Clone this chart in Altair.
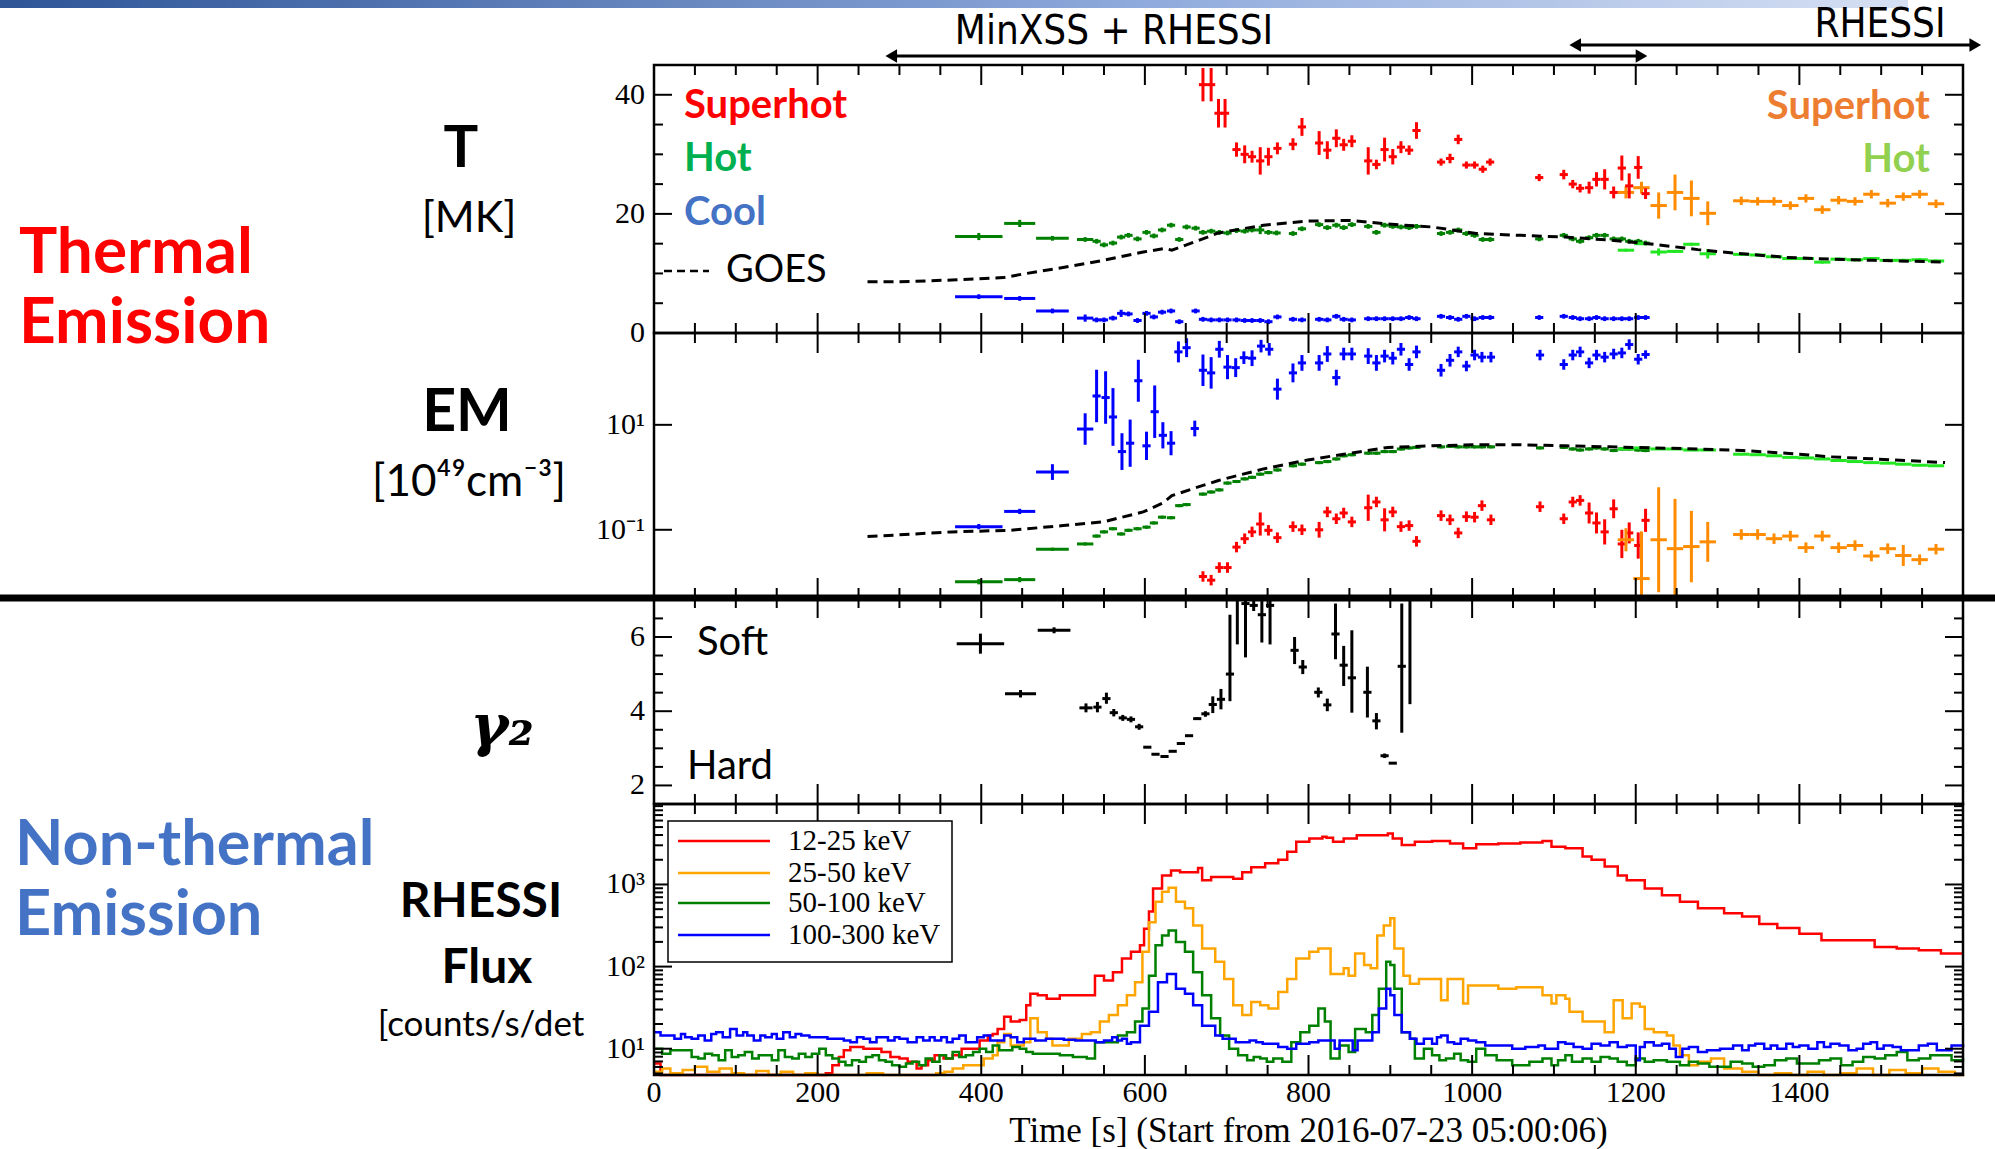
import altair as alt
import numpy as np
import pandas as pd

# ---------------- layout of the plot area (pixels, relative to plot origin) ----------------
W, H = 1309, 1010
T_TOP, T_BOT = 0, 268
EM_TOP, EM_BOT = 268, 533
G_TOP, G_BOT = 533, 739
F_TOP, F_BOT = 739, 1010

# ---------------- data ----------------
# Temperature [MK]: (time s, value, error)
sh_T = [(671, 41.7, 2.8), (681, 41.7, 2.8), (690, 36.9, 2.4), (698, 36.9, 2.4), (712, 30.8, 1.2), (722, 30.0, 1.5),
        (731, 29.6, 1.0), (741, 28.9, 2.3), (751, 29.6, 1.5), (762, 31.0, 1.0), (781, 31.7, 1.0), (792, 34.6, 1.5),
        (813, 31.9, 2.0), (823, 30.7, 1.5), (834, 32.7, 1.5), (843, 31.6, 1.0), (853, 32.2, 1.0), (873, 28.9, 2.3),
        (883, 28.3, 0.8), (893, 30.8, 2.0), (903, 29.6, 1.3), (913, 31.2, 1.0), (923, 30.7, 0.8), (932, 34.0, 1.4),
        (962, 28.7, 0.6), (973, 29.3, 0.8), (983, 32.5, 0.8), (993, 28.2, 0.6), (1003, 28.2, 0.6), (1013, 27.5, 0.6),
        (1022, 28.7, 0.6), (1082, 26.1, 0.6), (1112, 26.6, 0.8), (1123, 25.0, 0.7), (1132, 24.3, 0.7), (1143, 24.4, 1.0),
        (1152, 25.8, 1.2), (1162, 25.8, 1.7), (1173, 23.6, 1.0), (1183, 27.7, 2.1), (1192, 24.7, 2.1), (1203, 27.8, 1.9),
        (1212, 23.4, 0.9)]
hot_T = [(397, 16.2, 0.6), (447, 18.4, 0.6), (487, 15.9), (527, 15.7), (541, 15.4), (550, 14.8), (561, 15.1), (571, 16.1),
         (580, 16.4), (591, 15.8), (602, 16.9), (611, 16.3), (621, 17.3), (632, 18.1), (642, 15.7), (651, 17.8),
         (662, 17.6), (671, 16.9), (681, 17.1), (691, 16.9), (701, 16.8), (712, 17.2), (722, 17.1), (731, 17.3),
         (741, 17.3, 0.7), (751, 16.9), (761, 16.8), (781, 16.7), (792, 17.5), (813, 18.2), (823, 17.7), (834, 18.1),
         (843, 17.7), (853, 18.2), (873, 17.9), (883, 16.9), (893, 18.1), (903, 17.9), (913, 17.8), (923, 17.7),
         (932, 17.9), (962, 16.7), (973, 16.9), (983, 17.3), (993, 16.7), (1003, 16.4), (1013, 15.7), (1022, 15.7),
         (1082, 15.8), (1112, 16.4), (1123, 15.8), (1132, 15.4), (1143, 16.0), (1152, 16.4), (1162, 16.4),
         (1173, 15.8), (1183, 15.8), (1192, 15.4), (1203, 15.4), (1212, 15.1)]
cool_T = [(397, 6.1), (447, 5.8), (487, 3.7), (527, 2.5, 0.6), (541, 2.2), (550, 2.2), (561, 2.5), (571, 3.3, 0.6),
          (580, 3.2), (591, 2.1), (602, 3.3), (611, 2.7), (621, 3.5), (632, 3.7), (642, 1.9), (662, 3.7), (671, 2.3),
          (681, 2.2), (691, 2.2), (701, 2.2), (712, 2.2), (722, 2.1), (731, 2.1), (741, 2.1), (751, 1.9), (762, 2.7),
          (781, 2.3), (792, 2.2), (813, 2.3), (823, 2.2), (834, 2.8), (843, 2.3), (853, 2.2), (873, 2.4), (883, 2.4),
          (893, 2.4), (903, 2.4), (913, 2.4), (923, 2.6), (932, 2.4), (962, 2.8), (973, 2.6), (983, 2.3), (993, 2.8),
          (1003, 2.4), (1013, 2.6), (1022, 2.6), (1082, 2.6), (1112, 2.8), (1123, 2.6), (1132, 2.4), (1143, 2.4),
          (1152, 2.6), (1162, 2.4), (1173, 2.4), (1183, 2.4), (1192, 2.4), (1203, 2.6), (1212, 2.6)]
shR_T = [(1188, 23.6, 1.0), (1207, 24.4, 1.0), (1228, 21.4, 2.2), (1248, 23.6, 3.0), (1268, 22.6, 3.0), (1288, 20.1, 2.0),
         (1329, 22.2), (1349, 22.1), (1369, 22.1), (1389, 21.4), (1408, 22.6), (1428, 20.7), (1448, 22.3), (1468, 22.1),
         (1488, 23.3), (1508, 21.8), (1527, 22.9), (1547, 23.3), (1567, 21.7)]
hotR_T = [(1188, 13.9), (1208, 15.0), (1228, 13.6, 0.6), (1248, 13.7), (1268, 14.9), (1288, 13.3, 0.8), (1329, 13.2),
          (1349, 13.1), (1369, 12.8), (1389, 12.5), (1408, 12.5), (1428, 11.9), (1448, 12.4), (1468, 12.3),
          (1488, 12.5), (1508, 12.2), (1527, 12.2), (1547, 12.3), (1567, 12.1)]
goes_T = [(261, 8.6), (300, 8.6), (364, 8.9), (427, 9.3), (451, 9.9), (500, 11.0), (549, 12.2), (598, 13.6), (625, 14.2),
          (633, 13.9), (647, 14.6), (690, 16.8), (745, 18.1), (799, 18.8), (851, 18.9), (897, 18.3), (951, 17.8),
          (1005, 16.7), (1059, 16.4), (1114, 16.1), (1168, 15.6), (1222, 14.9), (1276, 14.0), (1330, 13.3),
          (1384, 12.7), (1438, 12.4), (1492, 12.2), (1578, 11.9)]

# Emission measure [1e49 cm^-3], as log10: (time s, log10 value, error in dex)
cool_EM = [(397, -0.94, 0.05), (447, -0.65, 0.05), (487, 0.10, 0.15), (527, 0.92, 0.3), (541, 1.55, 0.5), (552, 1.52, 0.5),
           (561, 1.15, 0.55), (572, 0.49, 0.35), (582, 0.65, 0.45), (592, 1.84, 0.4), (602, 0.60, 0.27), (612, 1.25, 0.5),
           (622, 0.80, 0.25), (632, 0.65, 0.23), (641, 2.39, 0.2), (651, 2.47, 0.18), (661, 0.93, 0.15), (671, 2.04, 0.3),
           (681, 1.99, 0.3), (691, 2.44, 0.16), (701, 2.10, 0.23), (711, 2.09, 0.18), (721, 2.28, 0.12), (731, 2.27, 0.15),
           (742, 2.50, 0.12), (752, 2.44, 0.12), (762, 1.68, 0.2), (781, 1.99, 0.18), (792, 2.18, 0.15), (813, 2.18, 0.15),
           (823, 2.35, 0.15), (834, 1.90, 0.15), (843, 2.35, 0.12), (853, 2.35, 0.12), (873, 2.31, 0.15), (883, 2.18, 0.15),
           (893, 2.31, 0.12), (903, 2.27, 0.12), (913, 2.44, 0.12), (923, 2.15, 0.12), (932, 2.39, 0.12), (962, 2.04, 0.12),
           (973, 2.23, 0.12), (983, 2.39, 0.1), (993, 2.12, 0.1), (1003, 2.33, 0.1), (1012, 2.29, 0.1), (1023, 2.29, 0.1),
           (1083, 2.33, 0.1), (1112, 2.15, 0.1), (1123, 2.33, 0.1), (1132, 2.39, 0.1), (1143, 2.18, 0.1), (1152, 2.33, 0.1),
           (1162, 2.29, 0.1), (1173, 2.35, 0.1), (1183, 2.37, 0.1), (1192, 2.53, 0.1), (1203, 2.25, 0.1), (1212, 2.34, 0.08)]
hot_EM = [(397, -1.99, 0.05), (447, -1.95, 0.05), (487, -1.37), (527, -1.27), (541, -1.12), (550, -1.04), (561, -0.98),
          (571, -1.08), (580, -1.01), (591, -0.98), (602, -0.95), (611, -0.87), (621, -0.76), (632, -0.77), (642, -0.54),
          (651, -0.52), (671, -0.32), (681, -0.28), (691, -0.24), (701, -0.11), (712, -0.08), (722, -0.03), (731, 0.00),
          (741, 0.06), (751, 0.09), (762, 0.14), (781, 0.22), (792, 0.25), (813, 0.28), (823, 0.30), (834, 0.35),
          (843, 0.41), (853, 0.43), (873, 0.46), (883, 0.46), (893, 0.49), (903, 0.49), (913, 0.54), (923, 0.56),
          (932, 0.57), (962, 0.58), (973, 0.59), (983, 0.58), (993, 0.58), (1003, 0.58), (1012, 0.58), (1023, 0.58),
          (1083, 0.56), (1112, 0.57), (1123, 0.54), (1132, 0.52), (1143, 0.54), (1152, 0.56), (1162, 0.54),
          (1173, 0.51), (1183, 0.54), (1192, 0.54), (1203, 0.52), (1212, 0.51)]
sh_EM = [(671, -1.89), (681, -1.96), (691, -1.72), (701, -1.72), (712, -1.33), (722, -1.17), (731, -1.04), (741, -0.89, 0.22),
         (751, -1.01), (762, -1.15), (781, -0.94), (792, -1.00), (813, -1.00, 0.15), (823, -0.66), (834, -0.79), (843, -0.68),
         (853, -0.85), (873, -0.58, 0.25), (883, -0.47), (893, -0.81, 0.22), (903, -0.66), (913, -0.94), (923, -0.92),
         (932, -1.22), (962, -0.73), (973, -0.81), (983, -1.06), (993, -0.75), (1003, -0.76), (1012, -0.54), (1023, -0.81),
         (1083, -0.56), (1112, -0.79), (1123, -0.47), (1132, -0.44), (1143, -0.68, 0.2), (1152, -0.87, 0.2),
         (1162, -1.04, 0.24), (1173, -0.60, 0.18), (1183, -1.27, 0.27), (1192, -1.06, 0.2), (1203, -1.30, 0.25),
         (1212, -0.82, 0.22)]
shR_EM = [(1188, -1.19, 0.22), (1207, -1.93, 0.9), (1228, -1.19, 1.0), (1248, -1.36, 0.95), (1268, -1.32, 0.68),
          (1288, -1.23, 0.38), (1329, -1.09), (1349, -1.09), (1369, -1.17), (1389, -1.12), (1408, -1.34), (1428, -1.12),
          (1448, -1.34), (1468, -1.30), (1488, -1.50), (1508, -1.36), (1527, -1.49, 0.2), (1547, -1.57), (1567, -1.37)]
hotR_EM = [(1188, 0.54), (1208, 0.56), (1228, 0.54), (1248, 0.54), (1268, 0.52), (1288, 0.52), (1329, 0.44), (1349, 0.43),
           (1369, 0.41), (1389, 0.38), (1408, 0.37), (1428, 0.35), (1448, 0.32), (1468, 0.30), (1488, 0.28), (1508, 0.27),
           (1527, 0.25), (1547, 0.23), (1567, 0.22)]
goes_EM = [(261, -1.13), (364, -1.04), (435, -1.01), (500, -0.92), (549, -0.85), (598, -0.66), (622, -0.49), (633, -0.35),
           (658, -0.22), (690, -0.06), (745, 0.16), (799, 0.33), (843, 0.44), (897, 0.57), (951, 0.60), (1005, 0.62),
           (1059, 0.62), (1114, 0.60), (1168, 0.58), (1222, 0.56), (1276, 0.54), (1330, 0.51), (1384, 0.46),
           (1438, 0.39), (1492, 0.35), (1578, 0.28)]

# Spectral index gamma_2: (time s, value, lower, upper)
gamma2 = [(399, 5.82, 5.55, 6.09), (448, 4.47, 4.37, 4.57), (489, 6.18, 6.10, 6.26), (528, 4.09, 3.97, 4.21),
          (542, 4.11, 3.97, 4.25), (553, 4.34, 4.20, 4.50), (562, 3.96, 3.86, 4.06), (573, 3.82, 3.74, 3.90),
          (583, 3.78, 3.70, 3.86), (593, 3.58, 3.50, 3.66), (603, 3.03, 3.01, 3.05), (613, 2.84, 2.82, 2.86),
          (624, 2.78, 2.76, 2.80), (634, 2.92, 2.90, 2.94), (644, 3.13, 3.11, 3.15), (654, 3.34, 3.32, 3.36),
          (664, 3.80, 3.77, 3.83), (674, 3.93, 3.85, 4.00), (683, 4.18, 3.95, 4.40), (693, 4.32, 4.05, 4.60),
          (704, 5.00, 4.27, 6.60), (713, 7.40, 5.80, 8.00), (723, 6.90, 5.45, 8.00), (733, 6.85, 6.70, 7.00),
          (743, 6.60, 5.85, 7.00), (753, 6.85, 5.80, 7.30), (783, 5.64, 5.27, 6.00), (793, 5.19, 5.00, 5.38),
          (812, 4.51, 4.37, 4.64), (823, 4.17, 4.00, 4.34), (833, 6.08, 5.40, 6.90), (843, 5.24, 4.68, 5.76),
          (853, 4.90, 3.96, 6.18), (872, 4.51, 3.83, 5.20), (883, 3.74, 3.51, 3.95), (893, 2.80, 2.74, 2.86),
          (903, 2.60, 2.58, 2.62), (914, 5.21, 3.42, 6.90), (924, 7.50, 4.19, 8.00)]
MX_HALF = {397: 29, 399: 29, 447: 19, 448: 19, 487: 20, 489: 20, 527: 10, 528: 8}  # wide early MinXSS bins [s]

# RHESSI count rates [counts/s/det], as log10: (time s, log10 rate)
flux_12_25 = [(0, 0.82), (8, 0.55), (200, 0.55), (210, 0.70), (218, 0.80), (226, 0.90), (232, 0.98), (240, 1.02), (256, 1.00),
              (267, 1.00), (278, 0.96), (289, 0.90), (300, 0.88), (310, 0.84), (321, 0.76), (327, 0.80), (335, 0.86),
              (343, 0.92), (354, 0.88), (365, 0.92), (376, 1.00), (387, 1.00), (398, 1.10), (408, 1.16), (414, 1.18),
              (420, 1.24), (428, 1.39), (436, 1.33), (447, 1.35), (455, 1.53), (460, 1.67), (469, 1.65), (480, 1.61),
              (496, 1.65), (529, 1.65), (539, 1.89), (550, 1.83), (561, 1.93), (572, 2.10), (583, 2.18), (594, 2.26),
              (599, 2.46), (605, 2.67), (610, 2.95), (621, 3.11), (632, 3.17), (643, 3.15), (665, 3.20), (670, 3.05),
              (681, 3.09), (692, 3.09), (708, 3.07), (719, 3.15), (730, 3.21), (747, 3.26), (763, 3.30), (774, 3.40),
              (785, 3.52), (801, 3.56), (817, 3.58), (822, 3.57), (830, 3.52), (843, 3.56), (859, 3.60), (876, 3.60),
              (897, 3.62), (903, 3.56), (914, 3.48), (930, 3.52), (951, 3.53), (973, 3.50), (989, 3.44), (1005, 3.49),
              (1032, 3.50), (1059, 3.51), (1086, 3.53), (1097, 3.46), (1114, 3.44), (1127, 3.44), (1135, 3.34),
              (1146, 3.30), (1162, 3.22), (1178, 3.11), (1189, 3.05), (1211, 2.95), (1232, 2.87), (1254, 2.79),
              (1276, 2.71), (1308, 2.65), (1330, 2.61), (1351, 2.52), (1373, 2.47), (1400, 2.40), (1427, 2.32),
              (1465, 2.32), (1492, 2.24), (1519, 2.22), (1546, 2.20), (1573, 2.16), (1600, 2.16)]
flux_25_50 = [(0, 0.72), (10, 0.76), (20, 0.70), (35, 0.74), (50, 0.78), (65, 0.72), (80, 0.76), (95, 0.70), (110, 0.66),
              (125, 0.73), (140, 0.68), (155, 0.72), (170, 0.66), (185, 0.70), (200, 0.64), (230, 0.66), (260, 0.70),
              (280, 0.66), (300, 0.62), (330, 0.66), (345, 0.70), (355, 0.72), (365, 0.76), (378, 0.80), (387, 0.80),
              (403, 0.88), (414, 0.92), (420, 1.08), (428, 1.18), (436, 1.04), (452, 1.08), (460, 1.37), (469, 1.20),
              (480, 1.12), (487, 1.04), (507, 1.12), (523, 1.18), (534, 1.20), (545, 1.33), (556, 1.41), (567, 1.53),
              (578, 1.65), (588, 1.81), (597, 2.18), (605, 2.54), (613, 2.79), (621, 2.91), (629, 2.96), (638, 2.79),
              (649, 2.71), (659, 2.50), (670, 2.22), (686, 2.06), (697, 1.85), (708, 1.53), (719, 1.41), (730, 1.57),
              (741, 1.53), (751, 1.49), (763, 1.69), (774, 1.85), (785, 2.10), (801, 2.18), (812, 2.22), (819, 2.22),
              (827, 1.91), (843, 1.98), (849, 1.89), (857, 2.16), (868, 2.02), (876, 1.98), (884, 2.38), (892, 2.50),
              (900, 2.59), (905, 2.22), (916, 1.89), (924, 1.79), (935, 1.85), (951, 1.85), (962, 1.59), (970, 1.85),
              (989, 1.55), (995, 1.77), (1032, 1.73), (1054, 1.75), (1086, 1.65), (1097, 1.55), (1103, 1.65),
              (1114, 1.61), (1119, 1.45), (1135, 1.33), (1157, 1.33), (1162, 1.20), (1173, 1.59), (1184, 1.37),
              (1195, 1.55), (1205, 1.51), (1211, 1.24), (1222, 1.20), (1238, 1.16), (1246, 1.04), (1254, 0.92),
              (1265, 0.80), (1276, 0.84), (1292, 0.88), (1308, 0.76), (1330, 0.72), (1350, 0.66), (1370, 0.70),
              (1390, 0.64), (1410, 0.72), (1430, 0.66), (1450, 0.70), (1470, 0.76), (1490, 0.68), (1510, 0.74),
              (1530, 0.70), (1550, 0.76), (1570, 0.72), (1590, 0.66), (1600, 0.70)]
flux_50_100 = [(0, 1.00), (10, 0.94), (20, 0.98), (38, 0.98), (46, 0.90), (54, 0.88), (62, 0.94), (71, 0.92), (79, 0.86),
               (87, 0.98), (95, 0.90), (103, 0.92), (111, 0.96), (120, 0.88), (128, 0.92), (136, 0.92), (144, 0.86),
               (152, 0.98), (160, 0.90), (169, 0.88), (177, 0.94), (185, 0.90), (193, 0.94), (202, 1.00), (210, 0.92),
               (218, 0.88), (226, 0.84), (234, 0.80), (242, 0.86), (251, 0.84), (259, 0.90), (267, 0.92), (275, 0.86),
               (283, 0.84), (291, 0.80), (300, 0.78), (308, 0.82), (316, 0.84), (324, 0.80), (332, 0.88), (340, 0.84),
               (349, 0.92), (357, 0.88), (365, 0.96), (373, 0.90), (381, 0.92), (390, 0.96), (398, 1.00), (406, 0.96),
               (414, 1.04), (422, 0.98), (430, 0.98), (438, 1.02), (447, 1.00), (455, 0.96), (463, 0.94), (479, 0.94),
               (496, 0.92), (512, 0.90), (529, 0.88), (539, 1.08), (556, 1.08), (567, 1.16), (578, 1.20), (588, 1.33),
               (597, 1.49), (605, 1.89), (613, 2.26), (621, 2.38), (629, 2.44), (638, 2.30), (649, 2.18), (659, 1.93),
               (670, 1.65), (681, 1.37), (692, 1.16), (703, 1.00), (714, 0.92), (725, 0.86), (733, 0.90), (741, 0.88),
               (749, 0.84), (757, 0.88), (768, 0.84), (779, 1.08), (790, 1.20), (801, 1.28), (812, 1.49), (816, 1.49),
               (820, 1.33), (827, 0.88), (838, 1.04), (849, 0.96), (857, 1.24), (870, 1.20), (878, 1.41), (886, 1.73),
               (895, 2.06), (900, 2.02), (905, 1.73), (914, 1.20), (924, 1.12), (930, 0.88), (941, 1.00), (951, 0.92),
               (960, 0.86), (968, 0.88), (978, 0.94), (986, 0.86), (995, 0.84), (1005, 1.00), (1016, 0.92), (1030, 0.86),
               (1049, 0.80), (1070, 0.84), (1086, 0.88), (1097, 0.80), (1105, 0.86), (1114, 0.92), (1122, 0.84),
               (1135, 0.88), (1146, 0.84), (1157, 0.90), (1168, 0.88), (1178, 0.84), (1189, 0.80), (1200, 0.88),
               (1211, 0.84), (1222, 0.86), (1238, 0.84), (1254, 0.80), (1265, 0.84), (1276, 0.82), (1290, 0.78),
               (1303, 0.78), (1316, 0.84), (1330, 0.82), (1343, 0.78), (1357, 0.80), (1370, 0.86), (1384, 0.88),
               (1397, 0.82), (1411, 0.82), (1424, 0.86), (1438, 0.88), (1451, 0.80), (1465, 0.84), (1478, 0.90),
               (1492, 0.88), (1505, 0.92), (1519, 0.96), (1532, 0.86), (1546, 0.88), (1560, 0.92), (1573, 0.92),
               (1586, 0.86), (1600, 0.88)]
flux_100_300 = [(0, 1.20), (8, 1.16), (16, 1.16), (25, 1.12), (33, 1.18), (38, 1.14), (46, 1.12), (54, 1.16), (62, 1.10),
                (70, 1.18), (76, 1.20), (84, 1.14), (93, 1.24), (101, 1.16), (109, 1.20), (114, 1.16), (122, 1.10),
                (130, 1.16), (136, 1.14), (144, 1.18), (150, 1.12), (158, 1.20), (166, 1.14), (173, 1.18), (180, 1.16),
                (190, 1.14), (202, 1.14), (212, 1.12), (223, 1.12), (232, 1.10), (240, 1.08), (248, 1.14), (256, 1.12),
                (264, 1.08), (272, 1.14), (278, 1.14), (286, 1.10), (294, 1.14), (300, 1.12), (310, 1.08), (321, 1.14),
                (329, 1.10), (337, 1.14), (343, 1.10), (351, 1.14), (358, 1.08), (365, 1.12), (373, 1.16), (381, 1.08),
                (387, 1.08), (395, 1.14), (403, 1.16), (411, 1.10), (420, 1.10), (428, 1.16), (436, 1.14), (444, 1.08),
                (452, 1.12), (458, 1.12), (466, 1.10), (479, 1.12), (490, 1.12), (501, 1.11), (515, 1.10), (528, 1.10),
                (540, 1.08), (550, 1.10), (560, 1.14), (566, 1.10), (572, 1.12), (578, 1.06), (583, 1.08), (594, 1.28),
                (605, 1.45), (616, 1.81), (627, 1.91), (638, 1.73), (649, 1.67), (659, 1.53), (670, 1.28), (686, 1.16),
                (695, 1.12), (703, 1.12), (711, 1.08), (719, 1.08), (728, 1.10), (736, 1.08), (744, 1.06), (752, 1.06),
                (763, 1.02), (774, 1.00), (785, 1.06), (801, 1.08), (812, 1.10), (823, 1.10), (827, 1.10), (832, 1.00),
                (838, 1.10), (843, 1.10), (854, 0.98), (860, 1.10), (870, 1.10), (878, 1.20), (886, 1.49), (895, 1.73),
                (900, 1.65), (905, 1.41), (914, 1.20), (924, 1.12), (932, 1.06), (941, 1.12), (951, 1.06), (957, 1.14),
                (962, 1.16), (970, 1.08), (978, 1.06), (986, 1.12), (995, 1.10), (1005, 1.08), (1016, 1.04), (1030, 1.04),
                (1049, 1.00), (1065, 1.02), (1081, 1.04), (1089, 1.00), (1097, 1.00), (1105, 1.08), (1114, 1.06),
                (1124, 1.02), (1135, 1.00), (1146, 1.06), (1157, 1.04), (1168, 1.08), (1178, 1.02), (1189, 1.04),
                (1200, 0.86), (1205, 1.02), (1211, 1.08), (1222, 1.04), (1232, 1.06), (1241, 1.00), (1249, 0.90),
                (1257, 1.00), (1265, 1.02), (1276, 0.96), (1287, 0.98), (1303, 1.00), (1319, 1.04), (1330, 0.98),
                (1338, 1.04), (1346, 1.06), (1357, 1.00), (1365, 1.04), (1373, 1.00), (1384, 1.06), (1392, 1.02),
                (1400, 1.04), (1411, 1.00), (1422, 1.08), (1430, 1.02), (1438, 1.06), (1449, 1.04), (1460, 0.98),
                (1470, 1.00), (1478, 1.06), (1487, 1.08), (1495, 1.00), (1503, 1.04), (1514, 1.02), (1524, 0.98),
                (1535, 0.98), (1546, 1.04), (1557, 1.06), (1568, 0.98), (1578, 0.98), (1586, 1.04), (1595, 1.04),
                (1600, 1.02)]
flux_names = ["12-25 keV", "25-50 keV", "50-100 keV", "100-300 keV"]
flux_colors = ["#FF0000", "#FFA500", "#008000", "#0000FF"]

# axis ticks and labels
x_major = [0, 200, 400, 600, 800, 1000, 1200, 1400, 1600]
x_labels = ["0", "200", "400", "600", "800", "1000", "1200", "1400", ""]
T_major, T_minor, T_labels = [0, 20, 40], [5, 10, 15, 25, 30, 35], ["0", "20", "40"]
EM_major, EM_labels = [0.1, 10], ["10⁻¹", "10¹"]
G_major, G_minor, G_labels = [2, 4, 6], [2.5, 3, 3.5, 4.5, 5, 5.5, 6.5, 7], ["2", "4", "6"]
F_major, F_labels = [10, 100, 1000], ["10¹", "10²", "10³"]
F_minor = [m * d for d in [1, 10, 100, 1000] for m in range(2, 10)]

# instrument coverage arrows [s]
arrows = [("MinXSS + RHESSI", 290, 1207, -9), ("RHESSI", 1126, 1615, -20)]

# ---------------- scales ----------------
XS = alt.Scale(domain=[0, 1600], nice=False, zero=False)
def sT():
    return alt.Scale(domain=[0, 45], range=[T_BOT, T_TOP], clamp=True, nice=False, zero=False)
def sEM():
    return alt.Scale(type="log", domain=[10 ** -2.3, 10 ** 2.75], range=[EM_BOT, EM_TOP], clamp=True, nice=False)
def sG():
    return alt.Scale(domain=[1.5, 7.05], range=[G_BOT, G_TOP], clamp=True, nice=False, zero=False)
def sF():
    return alt.Scale(type="log", domain=[10 ** 0.68, 10 ** 3.98], range=[F_BOT, F_TOP], clamp=True, nice=False)

layers = []

def crosses(df, scale_fn, color, sw=3):
    h = alt.Chart(df).mark_rule(color=color, strokeWidth=sw).encode(
        x=alt.X("x0:Q", scale=XS, axis=None), x2="x1:Q",
        y=alt.Y("v:Q", scale=scale_fn(), axis=None))
    v = alt.Chart(df).mark_rule(color=color, strokeWidth=sw).encode(
        x=alt.X("t:Q", scale=XS, axis=None),
        y=alt.Y("lo:Q", scale=scale_fn(), axis=None), y2="hi:Q")
    return [h, v]

def err_df(pts, ey_def, ex_def=5, log=False):
    rows = []
    for p in pts:
        t, v = p[0], p[1]
        ey = p[2] if len(p) > 2 else ey_def
        ex = MX_HALF.get(t, ex_def)
        if log:
            rows.append(dict(t=t, x0=t - ex, x1=t + ex, v=10 ** v, lo=10 ** (v - ey), hi=10 ** (v + ey)))
        else:
            rows.append(dict(t=t, x0=t - ex, x1=t + ex, v=v, lo=v - ey, hi=v + ey))
    return pd.DataFrame(rows)

def line_df(pts, log=False):
    return pd.DataFrame({"t": [p[0] for p in pts], "v": [10 ** p[1] if log else p[1] for p in pts]})

# ---------------- T panel ----------------
layers += crosses(err_df(hot_T, 0.4), sT, "#008000")
layers += crosses(err_df(cool_T, 0.4), sT, "#0000FF")
layers += crosses(err_df(hotR_T, 0.25, 10), sT, "#22E622")
layers += crosses(err_df(shR_T, 0.7, 10), sT, "#FF8C00")
layers += crosses(err_df(sh_T, 0.7), sT, "#FF0000")
layers.append(alt.Chart(line_df(goes_T)).mark_line(color="black", strokeWidth=3, strokeDash=[10, 6]).encode(
    x=alt.X("t:Q", scale=XS, axis=None), y=alt.Y("v:Q", scale=sT(), axis=None)))

# ---------------- EM panel ----------------
layers += crosses(err_df(hot_EM, 0.03, log=True), sEM, "#008000")
layers += crosses(err_df(hotR_EM, 0.02, 10, log=True), sEM, "#22E622")
layers += crosses(err_df(cool_EM, 0.1, log=True), sEM, "#0000FF")
layers += crosses(err_df(sh_EM, 0.1, log=True), sEM, "#FF0000")
layers += crosses(err_df(shR_EM, 0.1, 10, log=True), sEM, "#FF8C00")
layers.append(alt.Chart(line_df(goes_EM, log=True)).mark_line(color="black", strokeWidth=3, strokeDash=[10, 6]).encode(
    x=alt.X("t:Q", scale=XS, axis=None), y=alt.Y("v:Q", scale=sEM(), axis=None)))

# ---------------- gamma panel ----------------
gdf = pd.DataFrame([dict(t=t, x0=t - MX_HALF.get(t, 5), x1=t + MX_HALF.get(t, 5), v=g, lo=lo, hi=hi)
                    for (t, g, lo, hi) in gamma2])
layers += crosses(gdf, sG, "black")

# ---------------- flux panel ----------------
for pts, col in zip([flux_12_25, flux_25_50, flux_50_100, flux_100_300], flux_colors):
    layers.append(alt.Chart(line_df(pts, log=True)).mark_line(color=col, strokeWidth=2.5, interpolate="step-after").encode(
        x=alt.X("t:Q", scale=XS, axis=None), y=alt.Y("v:Q", scale=sF(), axis=None)))

# ---------------- frames and ticks ----------------
def ptext(txt, x, y, size, color="black", font="Lato", weight="normal", align="left", style="normal", baseline="middle"):
    return alt.Chart(pd.DataFrame({"s": [txt]})).mark_text(
        font=font, fontSize=size, fontWeight=weight, fontStyle=style, color=color, align=align, baseline=baseline
    ).encode(x=alt.value(x), y=alt.value(y), text="s:N")

one = pd.DataFrame({"a": [0]})
for top, bot in [(T_TOP, T_BOT), (EM_TOP, EM_BOT), (G_TOP, G_BOT), (F_TOP, F_BOT)]:
    layers.append(alt.Chart(one).mark_rect(fillOpacity=0, stroke="black", strokeWidth=2.5).encode(
        x=alt.value(0), x2=alt.value(W), y=alt.value(top), y2=alt.value(bot)))

rows = []
for top, bot in [(T_TOP, T_BOT), (EM_TOP, EM_BOT), (G_TOP, G_BOT), (F_TOP, F_BOT)]:
    for v in range(0, 1601, 50):
        L = 20 if v in x_major else 10
        rows.append(dict(t=v, a=top, b=top + L))
        rows.append(dict(t=v, a=bot - L, b=bot))
layers.append(alt.Chart(pd.DataFrame(rows)).mark_rule(color="black", strokeWidth=2).encode(
    x=alt.X("t:Q", scale=XS, axis=None), y=alt.Y("a:Q", scale=None, axis=None), y2="b:Q"))

def yticks(vals, scale_fn, L):
    df = pd.DataFrame({"v": vals})
    out = []
    for x0 in (0, W - L):
        out.append(alt.Chart(df).mark_rule(color="black", strokeWidth=2).encode(
            x=alt.value(x0), x2=alt.value(x0 + L), y=alt.Y("v:Q", scale=scale_fn(), axis=None)))
    return out

def ylabels(vals, labs, scale_fn):
    return alt.Chart(pd.DataFrame({"v": vals, "s": labs})).mark_text(
        font="Liberation Serif", fontSize=30, align="right", baseline="middle").encode(
        x=alt.value(-9), y=alt.Y("v:Q", scale=scale_fn(), axis=None), text="s:N")

layers += yticks(T_major, sT, 18) + yticks(T_minor, sT, 9) + [ylabels(T_major, T_labels, sT)]
layers += yticks(EM_major, sEM, 18) + [ylabels(EM_major, EM_labels, sEM)]
layers += yticks(G_major, sG, 18) + yticks(G_minor, sG, 9) + [ylabels(G_major, G_labels, sG)]
layers += yticks(F_major, sF, 18) + yticks(F_minor, sF, 9) + [ylabels(F_major, F_labels, sF)]

# x tick labels and title
layers.append(alt.Chart(pd.DataFrame({"t": x_major, "s": x_labels})).mark_text(
    font="Liberation Serif", fontSize=30, align="center", baseline="middle").encode(
    x=alt.X("t:Q", scale=XS, axis=None), y=alt.value(F_BOT + 18), text="s:N"))
layers.append(ptext("Time [s] (Start from 2016-07-23 05:00:06)", W / 2, F_BOT + 56, 35,
                    font="Liberation Serif", align="center"))

# thick separator between thermal and non-thermal
layers.append(alt.Chart(one).mark_rule(color="black", strokeWidth=7).encode(
    x=alt.value(-654), x2=alt.value(1341), y=alt.value(EM_BOT)))

# top banner
layers.append(alt.Chart(one).mark_rect(color=alt.Gradient(
    gradient="linear", x1=0, x2=1, y1=0, y2=0,
    stops=[alt.GradientStop(color="#2F5597", offset=0), alt.GradientStop(color="#8FAADC", offset=0.6),
           alt.GradientStop(color="#D6E0F3", offset=1)])).encode(
    x=alt.value(-654), x2=alt.value(1254), y=alt.value(-65), y2=alt.value(-57)))

# coverage arrows
adf = pd.DataFrame([dict(name=n, t0=a, t1=b, py=y) for (n, a, b, y) in arrows])
layers.append(alt.Chart(adf).mark_rule(color="black", strokeWidth=3).encode(
    x=alt.X("t0:Q", scale=XS, axis=None), x2="t1:Q", y=alt.Y("py:Q", scale=None, axis=None)))
layers.append(alt.Chart(adf).mark_point(shape="triangle-left", filled=True, size=180, color="black", opacity=1).encode(
    x=alt.X("t0:Q", scale=XS, axis=None), y=alt.Y("py:Q", scale=None, axis=None)))
layers.append(alt.Chart(adf).mark_point(shape="triangle-right", filled=True, size=180, color="black", opacity=1).encode(
    x=alt.X("t1:Q", scale=XS, axis=None), y=alt.Y("py:Q", scale=None, axis=None)))
NARROW = "Liberation Sans Narrow, DejaVu Sans Condensed, Roboto Condensed, sans-serif"
layers.append(ptext("MinXSS + RHESSI", 460, -33, 40, font=NARROW, align="center"))
layers.append(ptext("RHESSI", 1226, -40, 40, font=NARROW, align="center"))

# T panel legend texts
layers.append(ptext("Superhot", 30, 41, 40, color="#FF0000", weight="bold"))
layers.append(ptext("Hot", 30, 94, 40, color="#00B050", weight="bold"))
layers.append(ptext("Cool", 30, 148, 40, color="#4472C4", weight="bold"))
layers.append(ptext("GOES", 72, 206, 38))
layers.append(alt.Chart(one).mark_rule(color="black", strokeWidth=2.5, strokeDash=[8, 5]).encode(
    x=alt.value(10), x2=alt.value(55), y=alt.value(206)))
layers.append(ptext("Superhot", 1276, 42, 40, color="#ED7D31", weight="bold", align="right"))
layers.append(ptext("Hot", 1276, 95, 40, color="#92D050", weight="bold", align="right"))

# gamma annotations
layers.append(ptext("Soft", 43, 578, 40))
layers.append(ptext("Hard", 33, 702, 40))

# flux legend
layers.append(alt.Chart(one).mark_rect(fill="white", stroke="black", strokeWidth=1.5).encode(
    x=alt.value(14), x2=alt.value(298), y=alt.value(756), y2=alt.value(897)))
leg = pd.DataFrame({"name": flux_names, "color": flux_colors, "py": [776, 808, 838, 870]})
layers.append(alt.Chart(leg).mark_rule(strokeWidth=2.5).encode(
    x=alt.value(24), x2=alt.value(116), y=alt.Y("py:Q", scale=None, axis=None),
    color=alt.Color("color:N", scale=None, legend=None)))
layers.append(alt.Chart(leg).mark_text(font="Liberation Serif", fontSize=29, align="left", baseline="middle").encode(
    x=alt.value(134), y=alt.Y("py:Q", scale=None, axis=None), text="name:N"))

# left-hand labels
layers.append(ptext("Thermal", -635, 189, 64, color="#FF0000", weight="bold"))
layers.append(ptext("Emission", -635, 259, 64, color="#FF0000", weight="bold"))
layers.append(ptext("Non-thermal", -639, 781, 63, color="#4472C4", weight="bold"))
layers.append(ptext("Emission", -639, 851, 63, color="#4472C4", weight="bold"))
layers.append(ptext("T", -193, 85, 58, weight="bold", align="center"))
layers.append(ptext("[MK]", -185, 154, 43, align="center"))
layers.append(ptext("EM", -187, 348, 59, weight="bold", align="center"))
layers.append(ptext("[10⁴⁹cm⁻³]", -185, 418, 44, align="center"))
layers.append(ptext("γ₂", -152, 663, 58, font="DejaVu Serif", weight="bold", style="italic", align="center"))
layers.append(ptext("RHESSI", -173, 838, 48, weight="bold", align="center"))
layers.append(ptext("Flux", -167, 904, 48, weight="bold", align="center"))
layers.append(ptext("[counts/s/det", -173, 960, 35, align="center"))

chart = alt.layer(*layers).resolve_scale(y="independent").properties(
    width=W, height=H,
    autosize=alt.AutoSizeParams(type="none"),
    padding={"left": 654, "top": 65, "right": 32, "bottom": 74},
    background="white",
).configure_view(stroke=None)

chart.save("out.html", embed_options={"renderer": "svg", "actions": False})
